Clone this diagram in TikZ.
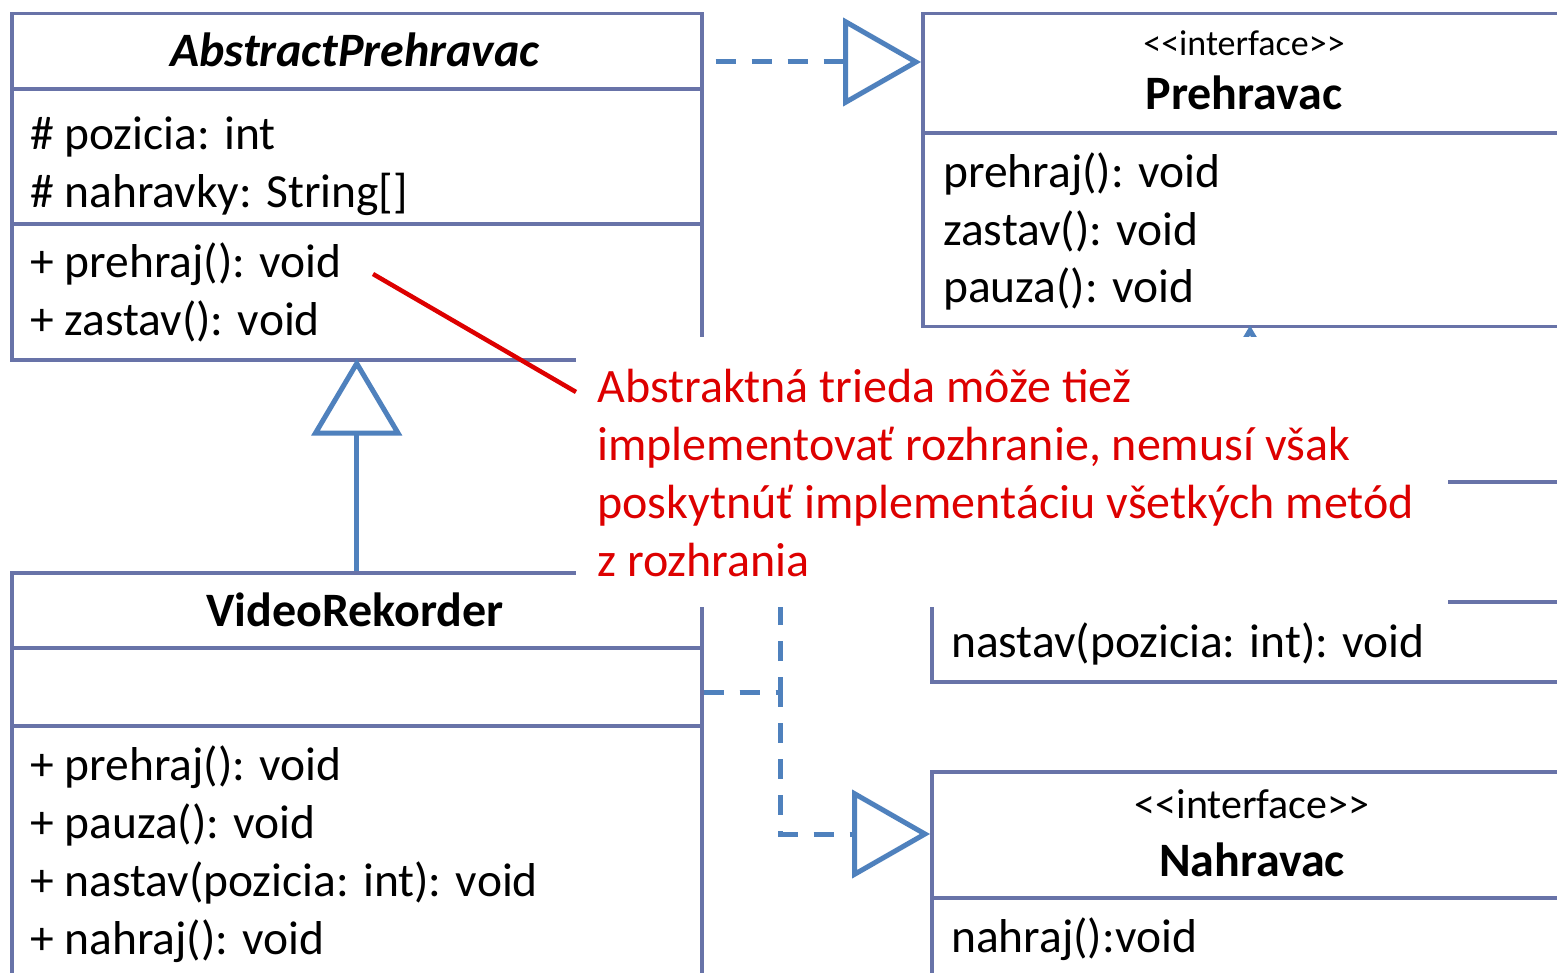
\documentclass[tikz,border=0pt]{standalone}
\usepackage{fontspec}
\setmainfont{Carlito}
\usetikzlibrary{arrows.meta}
\definecolor{boxc}{RGB}{104,115,168}
\definecolor{arrc}{RGB}{79,129,189}
\definecolor{notec}{RGB}{221,0,0}
\begin{document}
\begin{tikzpicture}[x=1pt,y=-1pt,
  box/.style={draw=boxc, line width=3.5pt, inner sep=0pt, anchor=north west},
  sepline/.style={draw=boxc, line width=3.5pt},
  txt/.style={anchor=base west, inner sep=0pt, font=\fontsize{47.5}{58}\selectfont},
  ttl/.style={anchor=base, inner sep=0pt, font=\fontsize{48}{56}\selectfont\bfseries},
  conn/.style={draw=arrc, line width=5pt},
  dashedc/.style={conn, dash pattern=on 20pt off 16pt},
  realize/.style={-{Triangle[open, length=78pt, width=88pt, fill=white]}},
  gen/.style={-{Triangle[open, length=77pt, width=90pt, fill=white]}},
  redline/.style={draw=notec, line width=4.5pt},
]
\useasboundingbox (0,0) rectangle (1557,973);
\clip (0,0) rectangle (1557,973);
\fill[white] (0,0) rectangle (1557,973);

% ---- boxes
\node[box, minimum width=690pt, minimum height=346pt] (abs) at (10,12) {};
\node[box, minimum width=679pt, minimum height=313pt] (prehr) at (921,12) {};
\node[box, minimum width=670pt, minimum height=200pt] (nast) at (930,480) {};
\node[box, minimum width=670pt, minimum height=240pt] (nahr) at (930,770) {};
\node[box, minimum width=690pt, minimum height=420pt] (video) at (10,571) {};

\draw[sepline] (10,89) -- (700,89);
\draw[sepline] (10,224) -- (700,224);
\draw[sepline] (921,133) -- (1600,133);
\draw[sepline] (930,602) -- (1600,602);
\draw[sepline] (930,898) -- (1600,898);
\draw[sepline] (10,648) -- (700,648);
\draw[sepline] (10,726) -- (700,726);

% ---- texts
\node[ttl, font=\fontsize{48}{56}\selectfont\bfseries\itshape] (absT) at (355,67) {AbstractPrehravac};
\node[txt] (absA1) at (30,150) {\# pozicia: int};
\node[txt] (absA2) at (30,208) {\# nahravky: String[]};
\node[txt] (absM1) at (30,278) {+ prehraj(): void};
\node[txt] (absM2) at (30,335) {+ zastav(): void};

\node[anchor=base, inner sep=0pt, font=\fontsize{36}{40}\selectfont] (prehrS) at (1244,56) {<{}<interface>{}>};
\node[ttl] (prehrT) at (1244,110) {Prehravac};
\node[txt] (prehrM1) at (943,188) {prehraj(): void};
\node[txt] (prehrM2) at (943,246) {zastav(): void};
\node[txt] (prehrM3) at (943,303) {pauza(): void};

\node[txt] (nastM1) at (951,657) {nastav(pozicia: int): void};

\node[anchor=base, inner sep=0pt, font=\fontsize{42}{46}\selectfont] (nahrS) at (1252,818) {<{}<interface>{}>};
\node[ttl] (nahrT) at (1252,876) {Nahravac};
\node[txt] (nahrM1) at (951,952) {nahraj():void};

\node[ttl] (videoT) at (355,626) {VideoRekorder};
\node[txt] (videoM1) at (30,780) {+ prehraj(): void};
\node[txt] (videoM2) at (30,838) {+ pauza(): void};
\node[txt] (videoM3) at (30,896) {+ nastav(pozicia: int): void};
\node[txt] (videoM4) at (30,954) {+ nahraj(): void};

% ---- connectors
\draw[dashedc, dash phase=24pt, realize] ([yshift=-50pt]abs.north east) -- ([yshift=-50pt]prehr.north west);
\draw[conn, gen] (video.north) -- ([yshift=3pt]abs.south);
\draw[conn, gen] ([xshift=320pt]nast.north west) -- ([xshift=329pt,yshift=3pt]prehr.south west);
\draw[dashedc, realize] ([yshift=-121pt]video.north east) -- ++(77,0) |- ([yshift=-61pt]nast.north west);
\draw[dashedc, realize] ([yshift=-121pt]video.north east) -- ++(77,0) |- ([yshift=-64pt]nahr.north west);

% ---- callout
\node[fill=white, inner sep=0pt, minimum width=872pt, minimum height=270pt, anchor=north west] (callout) at (576,337) {};
\node[anchor=base west, inner sep=0pt, text=notec, align=left, font=\fontsize{48}{58}\selectfont] (note) at (597,576)
  {Abstraktná trieda môže tiež\\implementovať rozhranie, nemusí však\\poskytnúť implementáciu všetkých metód\\z rozhrania};
\coordinate (ptr) at (373,274);
\draw[redline] ([yshift=-55pt]callout.north west) -- (ptr);
\end{tikzpicture}
\end{document}
